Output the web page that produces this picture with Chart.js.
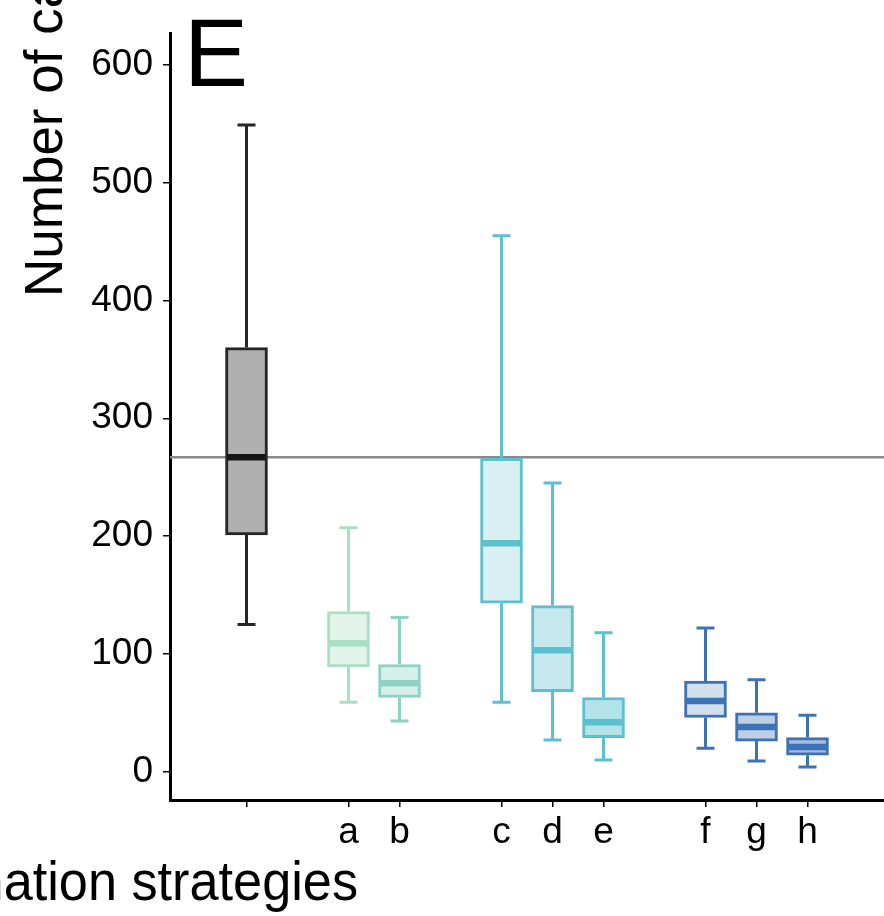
<!DOCTYPE html>
<html>
<head>
<meta charset="utf-8">
<script src="https://cdn.jsdelivr.net/npm/chart.js@4.4.1/dist/chart.umd.min.js"></script>
<style>
  html, body { margin: 0; padding: 0; background: #ffffff; overflow: hidden; }
  canvas { display: block; }
</style>
</head>
<body>
<canvas id="c" width="884" height="916"></canvas>
<script>
// ---- data ----
const categories  = ['', 'a', 'b', 'c', 'd', 'e', 'f', 'g', 'h'];
const groupIndex  = [0, 1, 1, 2, 2, 2, 3, 3, 3];
const whiskerLow  = [125, 59, 43, 59, 27, 10, 20, 9, 4];
const quartile1   = [201, 89, 63, 143, 68, 29, 46, 26, 14];
const medians     = [267, 109, 75, 194, 103, 42, 60, 38, 21];
const quartile3   = [360, 136, 91, 266, 141, 63, 77, 50, 29];
const whiskerHigh = [549, 207, 131, 455, 245, 118, 122, 78, 48];
const referenceValue = 267;
const yTickValues = [0, 100, 200, 300, 400, 500, 600];

// ---- styles ----
const borderColors = ['#262626', '#a9dfc3', '#8ed2c4', '#5cc0ce', '#5cc0ce', '#5cc0ce', '#3e72b6', '#3e72b6', '#3e72b6'];
const fillColors   = ['#b0b0b0', '#e2f3ea', '#d7efea', '#d9f0f3', '#c6e8ee', '#b3e3e8', '#d2dfed', '#bccfe5', '#a6bde0'];
const medianColors = ['#161616', '#a9dfc3', '#8ed2c4', '#5cc0ce', '#5cc0ce', '#5cc0ce', '#3e72b6', '#3e72b6', '#3e72b6'];
const FONT = '"Liberation Sans", Arial, Helvetica, sans-serif';

// slot positions derived from group structure (one empty slot between groups)
const xPos = categories.map((_, i) => i + groupIndex[i] + 1);

const boxData = categories.map((_, i) => ({ x: xPos[i], y: [quartile1[i], quartile3[i]] }));

const boxPlugin = {
  id: 'boxExtras',
  beforeDatasetsDraw(chart) {
    const { ctx, scales: { x, y }, chartArea } = chart;
    // reference line
    ctx.save();
    ctx.strokeStyle = '#8a8a8a';
    ctx.lineWidth = 2.5;
    const ry = y.getPixelForValue(referenceValue);
    ctx.beginPath();
    ctx.moveTo(chartArea.left, ry);
    ctx.lineTo(chartArea.right, ry);
    ctx.stroke();
    // whiskers
    const capHalf = 9;
    categories.forEach((_, i) => {
      const px = x.getPixelForValue(xPos[i]);
      ctx.strokeStyle = borderColors[i];
      ctx.lineWidth = 3;
      ctx.lineCap = 'butt';
      const yLo = y.getPixelForValue(whiskerLow[i]);
      const yQ1 = y.getPixelForValue(quartile1[i]);
      const yQ3 = y.getPixelForValue(quartile3[i]);
      const yHi = y.getPixelForValue(whiskerHigh[i]);
      ctx.beginPath();
      ctx.moveTo(px, yHi); ctx.lineTo(px, yQ3);
      ctx.moveTo(px, yQ1); ctx.lineTo(px, yLo);
      ctx.moveTo(px - capHalf, yHi); ctx.lineTo(px + capHalf, yHi);
      ctx.moveTo(px - capHalf, yLo); ctx.lineTo(px + capHalf, yLo);
      ctx.stroke();
    });
    ctx.restore();
  },
  afterDatasetsDraw(chart) {
    const { ctx, scales: { x, y } } = chart;
    const meta = chart.getDatasetMeta(0);
    ctx.save();
    categories.forEach((_, i) => {
      const bar = meta.data[i];
      const half = bar.width / 2 - 2;
      const px = x.getPixelForValue(xPos[i]);
      const ym = y.getPixelForValue(medians[i]);
      ctx.strokeStyle = medianColors[i];
      ctx.lineWidth = 6.5;
      ctx.beginPath();
      ctx.moveTo(px - half, ym);
      ctx.lineTo(px + half, ym);
      ctx.stroke();
    });
    ctx.restore();
  },
  afterDraw(chart) {
    const { ctx } = chart;
    ctx.save();
    ctx.fillStyle = '#000';
    // panel letter
    ctx.font = '96px ' + FONT;
    ctx.textAlign = 'left';
    ctx.textBaseline = 'alphabetic';
    ctx.fillText('E', 184, 86);
    // y axis title (rotated)
    ctx.save();
    ctx.translate(62, 297);
    ctx.rotate(-Math.PI / 2);
    ctx.font = '53px ' + FONT;
    ctx.textAlign = 'left';
    ctx.fillText('Number of cases', 0, 0);
    ctx.restore();
    // x axis title
    ctx.save();
    ctx.translate(358, 900);
    ctx.scale(0.95, 1);
    ctx.font = '55px ' + FONT;
    ctx.textAlign = 'right';
    ctx.fillText('Vaccination strategies', 0, 0);
    ctx.restore();
    ctx.restore();
  }
};

new Chart(document.getElementById('c'), {
  type: 'bar',
  data: {
    datasets: [{
      data: boxData,
      backgroundColor: fillColors,
      borderColor: borderColors,
      borderWidth: 3,
      borderSkipped: false,
      barThickness: 42
    }]
  },
  options: {
    responsive: false,
    animation: false,
    devicePixelRatio: 1,
    layout: { padding: { top: 33, right: 0, left: 0, bottom: 0 } },
    plugins: { legend: { display: false }, tooltip: { enabled: false } },
    scales: {
      x: {
        type: 'linear',
        min: -0.5,
        max: 13.5,
        offset: false,
        afterFit(scale) { scale.height = 116; },
        afterBuildTicks(scale) { scale.ticks = xPos.map(v => ({ value: v })); },
        border: { display: true, color: '#000', width: 3 },
        grid: { display: true, offset: false, drawOnChartArea: false, drawTicks: true, tickLength: 7, color: '#000', lineWidth: 1.5 },
        ticks: {
          autoSkip: false,
          maxRotation: 0,
          padding: 4,
          color: '#000',
          font: { family: FONT, size: 37 },
          callback(value) { const i = xPos.indexOf(value); return i >= 0 ? categories[i] : ''; }
        }
      },
      y: {
        min: -24,
        max: 627,
        afterFit(scale) { scale.width = 170; },
        afterBuildTicks(scale) { scale.ticks = yTickValues.map(v => ({ value: v })); },
        border: { display: true, color: '#000', width: 3 },
        grid: { display: true, drawOnChartArea: false, drawTicks: true, tickLength: 7, color: '#000', lineWidth: 1.5 },
        ticks: {
          padding: 10,
          color: '#000',
          font: { family: FONT, size: 37 }
        }
      }
    }
  },
  plugins: [boxPlugin]
});
</script>
</body>
</html>
